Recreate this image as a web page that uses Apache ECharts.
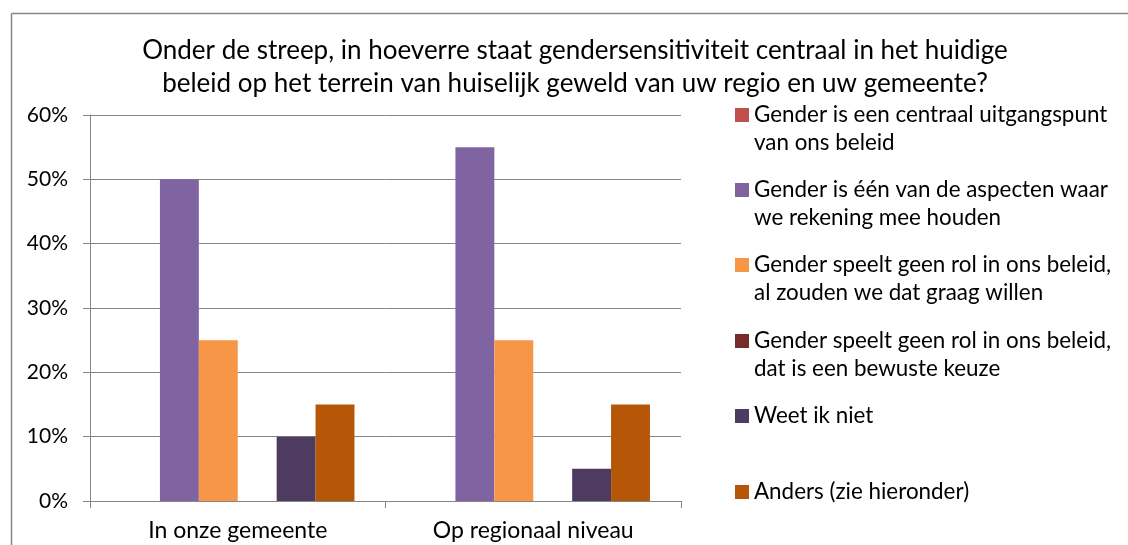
<!DOCTYPE html>
<html>
<head>
<meta charset="utf-8">
<script src="https://cdn.jsdelivr.net/npm/echarts@6/dist/echarts.min.js"></script>
<style>
html,body{margin:0;padding:0;background:#fff;}
#c{width:1128px;height:545px;}
</style>
</head>
<body>
<div id="c"></div>
<script>
var titleText = 'Onder de streep, in hoeverre staat gendersensitiviteit centraal in het huidige\nbeleid op het terrein van huiselijk geweld van uw regio en uw gemeente?';
var categories = ['In onze gemeente', 'Op regionaal niveau'];
var seriesNames = [
  'Gender is een centraal uitgangspunt\nvan ons beleid',
  'Gender is één van de aspecten waar\nwe rekening mee houden',
  'Gender speelt geen rol in ons beleid,\nal zouden we dat graag willen',
  'Gender speelt geen rol in ons beleid,\ndat is een bewuste keuze',
  'Weet ik niet',
  'Anders (zie hieronder)'
];
var centraal = [0, 0];
var aspecten = [50, 55];
var geenRolGraag = [25, 25];
var geenRolBewust = [0, 0];
var weetNiet = [10, 5];
var anders = [15, 15];
var yTicks = [0, 10, 20, 30, 40, 50, 60];
var colors = ['#C0504D', '#8064A2', '#F79646', '#772C2A', '#4D3B62', '#B65708'];

var seriesValues = [centraal, aspecten, geenRolGraag, geenRolBewust, weetNiet, anders];
var FONT = 'Lato';
var legendIconCenters = [115, 190, 265, 341, 416, 492];

var legends = seriesNames.map(function (name, i) {
  var twoLine = name.indexOf('\n') >= 0;
  return {
    orient: 'vertical',
    left: 735,
    top: twoLine ? legendIconCenters[i] - 42 : legendIconCenters[i] - 14,
    padding: 0,
    itemWidth: 14,
    itemHeight: 14,
    icon: 'rect',
    selectedMode: false,
    data: [name],
    formatter: function (n) { return n.indexOf('\n') >= 0 ? '\n' + n : n; },
    textStyle: {
      fontFamily: FONT,
      fontSize: 22.4,
      lineHeight: 28,
      color: '#000'
    }
  };
});

var chart = echarts.init(document.getElementById('c'), null, {renderer: 'canvas'});
chart.setOption({
  animation: false,
  backgroundColor: '#fff',
  title: {
    text: titleText,
    left: 575,
    top: 34.5,
    padding: 0,
    textAlign: 'center',
    textStyle: {fontFamily: FONT, fontSize: 26, fontWeight: 'normal', lineHeight: 33, color: '#000'}
  },
  graphic: [
    {
      type: 'line',
      shape: {x1: 11.5, y1: 13.5, x2: 1128, y2: 13.5},
      style: {stroke: '#868686', lineWidth: 1.5},
      silent: true, z: -1
    },
    {
      type: 'line',
      shape: {x1: 11.5, y1: 13.5, x2: 11.5, y2: 545},
      style: {stroke: '#868686', lineWidth: 1.5},
      silent: true, z: -1
    }
  ],
  legend: legends,
  grid: {left: 90, right: 447, top: 115, bottom: 44, containLabel: false},
  xAxis: {
    type: 'category',
    data: categories,
    axisLine: {lineStyle: {color: '#868686', width: 1}},
    axisTick: {show: true, length: 7, lineStyle: {color: '#868686'}},
    axisLabel: {fontFamily: FONT, fontSize: 23, color: '#000', margin: 18}
  },
  yAxis: {
    type: 'value',
    min: yTicks[0],
    max: yTicks[yTicks.length - 1],
    interval: 10,
    axisLine: {show: true, lineStyle: {color: '#868686', width: 1}},
    axisTick: {show: true, length: 7, lineStyle: {color: '#868686'}},
    splitLine: {show: true, lineStyle: {color: '#868686', width: 1}},
    axisLabel: {fontFamily: FONT, fontSize: 21, color: '#000', margin: 22, formatter: '{value}%'}
  },
  series: seriesNames.map(function (name, i) {
    return {
      type: 'bar',
      name: name,
      data: seriesValues[i],
      barGap: '0%',
      barCategoryGap: '21%',
      itemStyle: {color: colors[i]}
    };
  })
});
</script>
</body>
</html>
